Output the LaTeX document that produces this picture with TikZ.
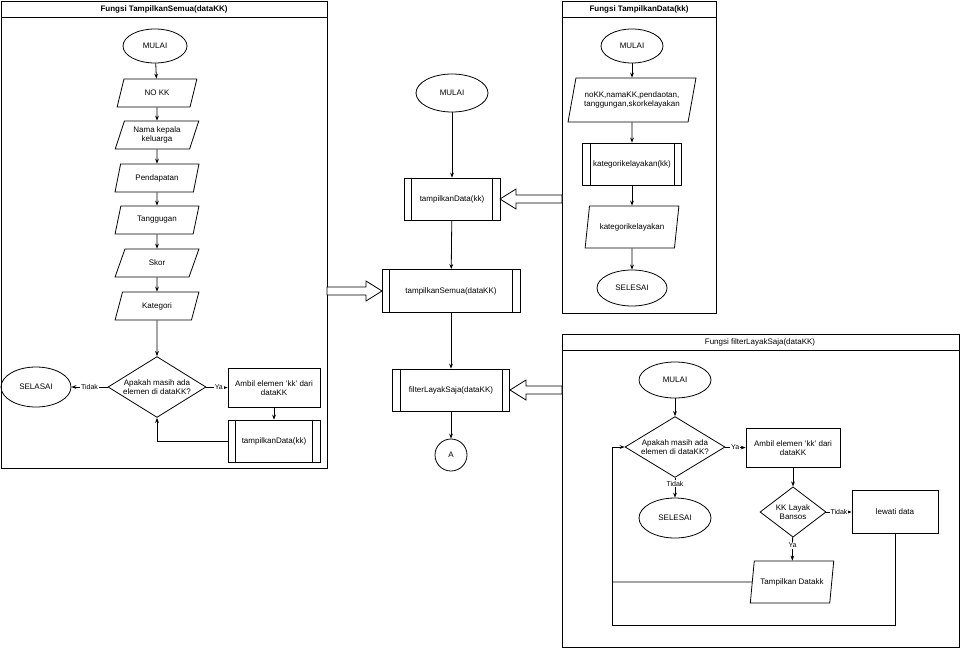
\documentclass[tikz,border=0pt]{standalone}
\usepackage{fontspec}
\setmainfont{Liberation Sans}
\usetikzlibrary{shapes.geometric,arrows.meta}

\tikzset{
  base/.style={draw, thick, align=center, font=\fontsize{8}{9.5}\selectfont, inner sep=1pt},
  term/.style={base, ellipse, minimum width=#1, minimum height=36pt},
  io/.style={base, trapezium, trapezium left angle=70, trapezium right angle=110,
             trapezium stretches=true, minimum width=#1, minimum height=28pt},
  proc/.style={base, rectangle, minimum width=#1, minimum height=40pt},
  dec/.style={base, diamond, aspect=1.6, minimum width=#1},
  frame/.style={draw, thick},
  lbl/.style={fill=white, inner sep=1pt, font=\fontsize{7}{8}\selectfont},
  line/.style={thick, -{Stealth[length=5pt]}},
  bigarrow/.style={draw, thick, fill=white}
}

\begin{document}
\begin{tikzpicture}[x=1pt, y=-1pt]
  \useasboundingbox (0,0) rectangle (960,648);

  % --- frames ---
  \draw[frame] (1,1) rectangle (327,468);
  \draw[frame] (1,1) rectangle (327,17);
  \node[font=\fontsize{8}{9}\selectfont\bfseries] at (164,9) {Fungsi TampilkanSemua(dataKK)};
  \draw[frame] (562,1) rectangle (716,313);
  \draw[frame] (562,1) rectangle (716,17);
  \node[font=\fontsize{8}{9}\selectfont\bfseries] at (639,9) {Fungsi TampilkanData(kk)};
  \draw[frame] (562,334) rectangle (959,647);
  \draw[frame] (562,334) rectangle (959,350);
  \node[font=\fontsize{8}{9}\selectfont] at (760,342) {Fungsi filterLayakSaja(dataKK)};

  % --- kiri: tampilkanSemua ---
  \node[term=64pt, minimum height=34pt] (mulai1) at (155,46) {MULAI};
  \node[io=80pt] (nokk) at (157,93) {NO KK};
  \node[io=84pt] (nama) at (157,135) {Nama kepala\\keluarga};
  \node[io=84pt] (dapat) at (157,178) {Pendapatan};
  \node[io=84pt] (tanggung) at (157,220) {Tanggugan};
  \node[io=84pt] (skor) at (157,263) {Skor};
  \node[io=84pt] (kat) at (157,306) {Kategori};
  \node[dec=98pt] (cek1) at (157,387) {Apakah masih ada\\elemen di dataKK?};
  \node[term=70pt, minimum height=40pt] (selasai1) at (36,387) {SELASAI};
  \node[proc=92pt, minimum height=39pt] (ambil1) at (274,388) {Ambil elemen 'kk' dari\\dataKK};
  \node[proc=92pt, minimum height=42pt] (tampil1) at (274,441) {tampilkanData(kk)};

  \draw[line] (mulai1) -- (nokk);
  \draw[line] (nokk) -- (nama);
  \draw[line] (nama) -- (dapat);
  \draw[line] (dapat) -- (tanggung);
  \draw[line] (tanggung) -- (skor);
  \draw[line] (skor) -- (kat);
  \draw[line] (kat) -- (cek1);
  \draw[line] (cek1) -- node[lbl] {Tidak} (selasai1);
  \draw[line] (cek1) -- node[lbl, pos=0.6] {Ya} (ambil1);
  \draw[line] (ambil1) -- (tampil1);
  \draw[line] (tampil1.west) -| (cek1.south);

  % --- tengah ---
  \node[term=72pt, minimum height=38pt] (mulai0) at (452,93) {MULAI};
  \node[proc=96pt, minimum height=42pt] (tampil0) at (452,199) {tampilkanData(kk)};
  \node[proc=138pt, minimum height=43pt] (semua0) at (451,291) {tampilkanSemua(dataKK)};
  \node[proc=117pt, minimum height=42pt] (filter0) at (451,390) {filterLayakSaja(dataKK)};
  \node[base, circle, minimum size=32pt] (A) at (451,455) {A};

  \draw[line] (mulai0) -- (tampil0);
  \draw[line] (tampil0) -- (semua0);
  \draw[line] (semua0) -- (filter0);
  \draw[line] (filter0) -- (A);

  % --- kanan atas: tampilkanData ---
  \node[term=62pt, minimum height=34pt] (mulai2) at (632,46) {MULAI};
  \node[io=128pt, minimum height=44pt] (data2) at (632,100) {noKK,namaKK,pendaotan,\\tanggungan,skorkelayakan};
  \node[proc=99pt, minimum height=42pt] (kat2) at (632,164) {kategorikelayakan(kk)};
  \node[io=94pt, minimum height=42pt] (katout2) at (632,227) {kategorikelayakan};
  \node[term=70pt] (selesai2) at (632,288) {SELESAI};

  \draw[line] (mulai2) -- (data2);
  \draw[line] (data2) -- (kat2);
  \draw[line] (kat2) -- (katout2);
  \draw[line] (katout2) -- (selesai2);

  % --- kanan bawah: filterLayakSaja ---
  \node[term=72pt] (mulai3) at (675,380) {MULAI};
  \node[dec=100pt] (cek3) at (675,447) {Apakah masih ada\\elemen di dataKK?};
  \node[proc=94pt, minimum height=39pt] (ambil3) at (793,448) {Ambil elemen 'kk' dari\\dataKK};
  \node[term=72pt, minimum height=40pt] (selesai3) at (675,518) {SELESAI};
  \node[dec=66pt, aspect=1.1] (layak3) at (793,512) {KK Layak\\Bansos};
  \node[proc=86pt, minimum height=43pt] (lewati3) at (895,512) {lewati data};
  \node[io=84pt, minimum height=42pt] (tampil3) at (792,582) {Tampilkan Datakk};
  \coordinate (kiri3) at (612,582);

  \draw[line] (mulai3) -- (cek3);
  \draw[line] (cek3) -- node[lbl, pos=0.5] {Ya} (ambil3);
  \draw[line] (cek3) -- node[lbl, pos=0.3] {Tidak} (selesai3);
  \draw[line] (ambil3) -- (layak3);
  \draw[line] (layak3) -- node[lbl, pos=0.5] {Tidak} (lewati3);
  \draw[line] (layak3) -- node[lbl, pos=0.35] {Ya} (tampil3);
  \draw[thick] (tampil3.west) -- (kiri3);
  \draw[line] (lewati3.south) |- (612,625) -- (612,447) -- (cek3.west);

  % --- subroutine garis dalam ---
  \foreach \n in {tampil1, tampil0, semua0, filter0, kat2} {
    \draw[thick] ([xshift=8pt]\n.north west) -- ([xshift=8pt]\n.south west);
    \draw[thick] ([xshift=-8pt]\n.north east) -- ([xshift=-8pt]\n.south east);
  }

  % --- panah besar ---
  \draw[bigarrow] (327,287) -- (366,287) -- (366,281) -- (382,291) -- (366,301) -- (366,295) -- (327,295) -- cycle;
  \draw[bigarrow] (562,195) -- (516,195) -- (516,189) -- (500,199) -- (516,209) -- (516,203) -- (562,203) -- cycle;
  \draw[bigarrow] (562,386) -- (526,386) -- (526,380) -- (510,390) -- (526,400) -- (526,394) -- (562,394) -- cycle;
\end{tikzpicture}
\end{document}
